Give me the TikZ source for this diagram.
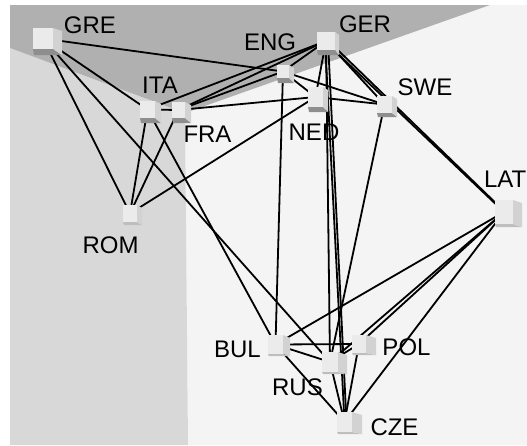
\documentclass[tikz,border=0pt]{standalone}
\usepackage{fontspec}
\setmainfont{Liberation Sans}
\definecolor{ceilgray}{HTML}{B0B0B0}
\definecolor{leftgray}{HTML}{D8D8D8}
\definecolor{rightgray}{HTML}{F4F4F4}
\definecolor{cubefront}{HTML}{EBEBEB}
\definecolor{cubeside}{HTML}{D2D2D2}
\definecolor{cubedark}{HTML}{8E8E8E}
\definecolor{cubelight}{HTML}{BEBEBE}

% faces of a cube drawn round a (blank) node: node, side width, bottom depth, bottom colour
\newcommand\cubefaces[4]{%
  \fill[#4] (#1.south west) -- (#1.south east) -- ([shift={(#2,#3)}]#1.south east)
        -- ([shift={(1,#3)}]#1.south west) -- cycle;
  \fill[cubeside] (#1.north east) -- ([shift={(#2,3)}]#1.north east)
        -- ([shift={(#2,#3)}]#1.south east) -- (#1.south east) -- cycle;
  \fill[cubefront] (#1.south west) rectangle (#1.north east);
}

\begin{document}
\begin{tikzpicture}[x=1pt,y=-1pt,
  box/.style={inner sep=0pt,outer sep=0pt,draw=none},
  edge/.style={line width=1.8pt,black},
  lab/.style={font=\fontsize{24}{27}\selectfont,anchor=base,inner sep=0pt}]
\useasboundingbox (0,0) rectangle (527,445);
\clip (0,0) rectangle (527,445);

% room: ceiling, left wall, right wall
\fill[white] (0,0) rectangle (527,445);
\fill[rightgray] (185,113) -- (490,5) -- (527,5) -- (527,445) -- (188,445) -- cycle;
\fill[leftgray] (10,48) -- (185,113) -- (188,445) -- (10,445) -- cycle;
\fill[ceilgray] (10,5) -- (490,5) -- (185,113) -- (10,48) -- cycle;

% cube positions
\node[box,minimum width=20pt,minimum height=21pt] (GRE) at (43,38.5) {};
\node[box,minimum width=15pt,minimum height=17pt] (ITA) at (147.5,109.5) {};
\node[box,minimum width=13pt,minimum height=16pt] (FRA) at (178.5,110) {};
\node[box,minimum width=12pt,minimum height=13pt] (ENG) at (283,71.5) {};
\node[box,minimum width=18pt,minimum height=18pt] (GER) at (326,41) {};
\node[box,minimum width=15pt,minimum height=20pt] (NED) at (315.5,97) {};
\node[box,minimum width=15pt,minimum height=17pt] (SWE) at (384.5,104.5) {};
\node[box,minimum width=18pt,minimum height=24pt] (LAT) at (504,212) {};
\node[box,minimum width=14pt,minimum height=17pt] (ROM) at (130,213.5) {};
\node[box,minimum width=15pt,minimum height=19pt] (BUL) at (275.5,344.5) {};
\node[box,minimum width=16pt,minimum height=20pt] (RUS) at (330,362) {};
\node[box,minimum width=14pt,minimum height=18pt] (POL) at (359,344) {};
\node[box,minimum width=15pt,minimum height=20pt] (CZE) at (344.5,422) {};

% labels
\node[lab] (lGRE) at (90,33) {GRE};
\node[lab] (lITA) at (160,93) {ITA};
\node[lab] (lFRA) at (207.5,142) {FRA};
\node[lab] (lENG) at (270,50) {ENG};
\node[lab] (lGER) at (365,32) {GER};
\node[lab] (lSWE) at (425,95) {SWE};
\node[lab] (lNED) at (314,140) {NED};
\node[lab,anchor=base east] (lLAT) at (526.5,187) {LAT};
\node[lab] (lROM) at (110.5,253) {ROM};
\node[lab] (lBUL) at (237.5,357) {BUL};
\node[lab] (lRUS) at (297.5,395) {RUS};
\node[lab] (lPOL) at (406.5,355) {POL};
\node[lab] (lCZE) at (394.5,435) {CZE};

% links
\foreach \a/\b in {GRE/ENG,GRE/ITA,GRE/ROM,GRE/RUS,
                   ITA/FRA,ITA/GER,ITA/ROM,ITA/BUL,
                   FRA/ENG,FRA/GER,FRA/NED,FRA/ROM,
                   ENG/GER,ENG/NED,ENG/SWE,ENG/BUL,
                   GER/NED,GER/SWE,GER/RUS,
                   NED/SWE,NED/ROM,SWE/RUS,
                   LAT/BUL,LAT/RUS,LAT/POL,LAT/CZE,
                   BUL/POL,BUL/RUS,BUL/CZE,
                   RUS/POL,RUS/CZE,POL/CZE}
  \draw[edge] (\a.center) -- (\b.center);
% paired links
\draw[edge] ([xshift=-1.5pt]GER.center) -- (LAT.center);
\draw[edge] ([xshift=2.5pt]GER.center) -- ([xshift=1pt]LAT.center);
\draw[edge] ([xshift=-1pt]GER.center) -- (CZE.center);
\draw[edge] ([xshift=2pt]GER.center) -- ([xshift=2pt]CZE.center);

% cubes
\cubefaces{GRE}{9}{6}{cubedark}
\cubefaces{ITA}{6}{5}{cubedark}
\cubefaces{FRA}{6}{5}{cubedark}
\cubefaces{ENG}{5}{5}{cubedark}
\cubefaces{GER}{4}{5}{cubedark}
\cubefaces{NED}{5}{5}{cubedark}
\cubefaces{SWE}{5}{4}{cubedark}
\cubefaces{LAT}{9}{3}{cubelight}
\cubefaces{ROM}{5}{3}{cubelight}
\cubefaces{BUL}{7}{2}{cubelight}
\cubefaces{RUS}{9}{2}{cubelight}
\cubefaces{POL}{10}{2}{cubelight}
\cubefaces{CZE}{10}{2}{cubelight}
\end{tikzpicture}
\end{document}
